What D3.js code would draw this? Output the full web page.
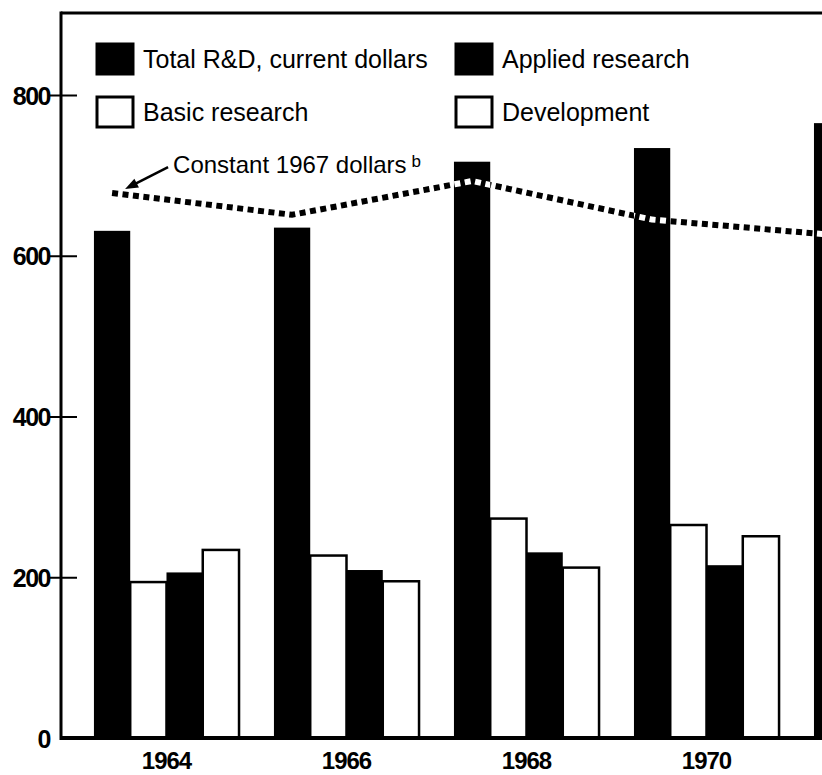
<!DOCTYPE html>
<html>
<head>
<meta charset="utf-8">
<script src="https://cdn.jsdelivr.net/npm/d3@7"></script>
<style>
  body { margin: 0; background: #fff; }
  svg { display: block; }
  text { font-family: "Liberation Sans", Arial, Helvetica, sans-serif; fill: #000; }
</style>
</head>
<body>
<script>
// values (millions of dollars)
var years = [1964, 1966, 1968, 1970, 1972];
var yearLabels = [1964, 1966, 1968, 1970];
var totalRD = [631, 635, 717, 734, 765];
var basicResearch = [194, 227, 273, 265, null];
var appliedResearch = [206, 209, 231, 215, null];
var development = [234, 195, 212, 251, null];
var constant1967 = [678, 651, 693, 645, 626];
var yTicks = [0, 200, 400, 600, 800];

var seriesKeys = ["total", "basic", "applied", "development"];
var seriesNames = ["Total R&D, current dollars", "Basic research", "Applied research", "Development"];
var seriesValues = [totalRD, basicResearch, appliedResearch, development];
var seriesFill = ["#000", "#fff", "#000", "#fff"];

var width = 822, height = 775;
var plotLeft = 61, plotTop = 13, plotBottom = 738;

var svg = d3.select("body").append("svg")
    .attr("width", width)
    .attr("height", height);

svg.append("rect")
    .attr("width", width)
    .attr("height", height)
    .attr("fill", "#fff");

svg.append("defs").append("clipPath")
    .attr("id", "plotclip")
    .append("rect")
    .attr("x", plotLeft)
    .attr("y", plotTop)
    .attr("width", width - plotLeft)
    .attr("height", plotBottom - plotTop + 2);

var x = d3.scaleBand()
    .domain(years)
    .range([plotLeft, 992])
    .paddingInner(0.194)
    .paddingOuter(0.183);

var inner = d3.scaleBand()
    .domain(seriesKeys)
    .range([0, x.bandwidth()]);

var y = d3.scaleLinear()
    .domain([0, 800])
    .range([plotBottom, 95]);

var plot = svg.append("g").attr("clip-path", "url(#plotclip)");

// white backdrop inside the clipped group so the blend below has something to invert
plot.append("rect")
    .attr("x", plotLeft)
    .attr("y", plotTop)
    .attr("width", width - plotLeft)
    .attr("height", plotBottom - plotTop + 2)
    .attr("fill", "#fff");

// bars
seriesKeys.forEach(function (key, s) {
    var data = years.map(function (yr, i) { return { year: yr, value: seriesValues[s][i] }; })
        .filter(function (d) { return d.value != null; });
    plot.append("g")
        .attr("class", "bars-" + key)
        .selectAll("rect")
        .data(data)
        .enter().append("rect")
        .attr("x", function (d) { return x(d.year) + inner(key); })
        .attr("y", function (d) { return y(d.value); })
        .attr("width", inner.bandwidth())
        .attr("height", function (d) { return y(0) - y(d.value); })
        .attr("fill", seriesFill[s])
        .attr("stroke", seriesFill[s] === "#fff" ? "#000" : "none")
        .attr("stroke-width", 2.5);
});

// constant 1967 dollars dotted line, inverted where it crosses black bars
var line = d3.line()
    .x(function (d, i) { return x(years[i]) + inner("total") + inner.bandwidth() / 2; })
    .y(function (d) { return y(d); });

plot.append("path")
    .datum(constant1967)
    .attr("d", line)
    .attr("fill", "none")
    .attr("stroke", "#fff")
    .attr("stroke-width", 6)
    .attr("stroke-dasharray", "6,4.5")
    .style("mix-blend-mode", "difference");

// frame
svg.append("line")
    .attr("x1", plotLeft).attr("x2", width)
    .attr("y1", plotTop).attr("y2", plotTop)
    .attr("stroke", "#000").attr("stroke-width", 3);
svg.append("line")
    .attr("x1", plotLeft).attr("x2", plotLeft)
    .attr("y1", plotTop - 1.5).attr("y2", plotBottom + 2)
    .attr("stroke", "#000").attr("stroke-width", 3);
svg.append("line")
    .attr("x1", plotLeft).attr("x2", width)
    .attr("y1", plotBottom).attr("y2", plotBottom)
    .attr("stroke", "#000").attr("stroke-width", 4);

// y axis
var yAxis = svg.append("g")
    .attr("transform", "translate(" + plotLeft + ",0)")
    .call(d3.axisLeft(y).tickValues(yTicks).tickSize(11).tickPadding(0).tickFormat(d3.format("d")));
yAxis.select(".domain").remove();
yAxis.selectAll(".tick line")
    .attr("x1", -11).attr("x2", 16)
    .attr("stroke", "#000").attr("stroke-width", 2)
    .filter(function (d) { return d === 0; }).remove();
yAxis.selectAll(".tick text")
    .attr("x", -11)
    .attr("dy", "0.36em")
    .style("font-size", "25px")
    .style("font-weight", "bold")
    .style("letter-spacing", "-1.5px");

// x axis labels
var xAxis = svg.append("g")
    .attr("transform", "translate(0," + plotBottom + ")")
    .call(d3.axisBottom(x).tickValues(yearLabels).tickSize(0).tickFormat(d3.format("d")));
xAxis.select(".domain").remove();
xAxis.selectAll(".tick text")
    .attr("y", 31)
    .attr("dy", 0)
    .style("font-size", "24px")
    .style("font-weight", "bold")
    .style("letter-spacing", "-1px");

// legend
var legendItems = [
    { i: 0, col: 0, row: 0 },
    { i: 2, col: 1, row: 0 },
    { i: 1, col: 0, row: 1 },
    { i: 3, col: 1, row: 1 }
];
var legend = svg.append("g").attr("class", "legend");
var item = legend.selectAll("g")
    .data(legendItems)
    .enter().append("g")
    .attr("transform", function (d) { return "translate(" + (97 + d.col * 359) + "," + (44 + d.row * 53) + ")"; });
item.append("rect")
    .attr("width", 36)
    .attr("height", 30)
    .attr("fill", function (d) { return seriesFill[d.i]; })
    .attr("stroke", "#000")
    .attr("stroke-width", 3);
item.append("text")
    .attr("x", 46)
    .attr("y", 24)
    .style("font-size", "25px")
    .text(function (d) { return seriesNames[d.i]; });

// annotation for the constant-dollar line
var startX = x(years[0]) + inner("total") + inner.bandwidth() / 2;
var startY = y(constant1967[0]);
var tipX = startX + 13, tipY = startY - 4;
var tailX = tipX + 43, tailY = tipY - 22;
var ang = Math.atan2(tipY - tailY, tipX - tailX);
svg.append("line")
    .attr("x1", tailX).attr("y1", tailY)
    .attr("x2", tipX - 8 * Math.cos(ang)).attr("y2", tipY - 8 * Math.sin(ang))
    .attr("stroke", "#000").attr("stroke-width", 2.5);
svg.append("path")
    .attr("d", d3.line()([
        [tipX, tipY],
        [tipX - 13 * Math.cos(ang) + 5 * Math.sin(ang), tipY - 13 * Math.sin(ang) - 5 * Math.cos(ang)],
        [tipX - 13 * Math.cos(ang) - 5 * Math.sin(ang), tipY - 13 * Math.sin(ang) + 5 * Math.cos(ang)]
    ]) + "Z")
    .attr("fill", "#000");

var note = svg.append("text")
    .attr("x", tailX + 5)
    .attr("y", tailY + 6)
    .style("font-size", "24px")
    .text("Constant 1967 dollars");
note.append("tspan")
    .attr("dx", 5)
    .attr("dy", -6)
    .style("font-size", "17px")
    .text("b");
</script>
</body>
</html>
